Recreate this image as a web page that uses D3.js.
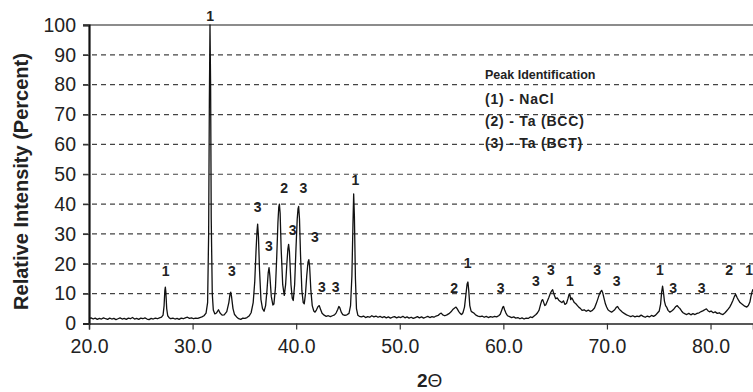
<!DOCTYPE html>
<html>
<head>
<meta charset="utf-8">
<script src="https://cdn.jsdelivr.net/npm/d3@7"></script>
<style>
  html, body { margin: 0; padding: 0; background: #fff; }
  svg { display: block; }
</style>
</head>
<body>
<svg id="chart" width="753" height="392"></svg>
<script>
// ---- data ----
const xTicks = [20, 30, 40, 50, 60, 70, 80];
const yTicks = [0, 10, 20, 30, 40, 50, 60, 70, 80, 90, 100];
const xTitleMain = "2";
const xTitleSymbol = "\u0398";
const yTitle = "Relative Intensity (Percent)";
const legendTitle = "Peak Identification";
const legendItems = ["(1) - NaCl", "(2) - Ta (BCC)", "(3) - Ta (BCT)"];

// [2-theta, relative intensity %]
const scan = [
  [20.0,1.6],[20.2,1.9],[20.4,1.5],[20.6,1.8],[20.8,1.4],[21.0,1.7],[21.2,1.5],[21.4,1.9],[21.6,1.6],[21.8,1.4],
  [22.0,1.8],[22.2,1.5],[22.4,1.7],[22.6,1.3],[22.8,1.6],[23.0,1.9],[23.2,1.5],[23.4,1.7],[23.6,1.4],[23.8,1.8],
  [24.0,1.6],[24.2,2.0],[24.4,1.5],[24.6,1.7],[24.8,1.4],[25.0,1.8],[25.2,1.6],[25.4,1.9],[25.6,1.5],[25.8,1.3],
  [26.0,1.7],[26.2,1.5],[26.4,1.8],[26.6,1.6],[26.8,1.9],[27.0,2.1],[27.15,2.8],[27.25,6.0],[27.32,11.0],[27.37,12.2],
  [27.42,10.5],[27.5,5.0],[27.6,2.6],[27.75,1.9],[27.9,1.6],[28.1,1.8],[28.3,1.5],[28.5,1.7],[28.7,1.4],[28.9,1.8],
  [29.1,1.6],[29.3,1.9],[29.5,2.1],[29.7,1.7],[29.9,1.9],[30.1,1.6],[30.3,1.8],[30.5,1.7],[30.7,2.0],[30.9,2.2],
  [31.1,2.6],[31.3,3.5],[31.45,7],[31.55,30],[31.62,75],[31.68,100],[31.74,80],[31.8,35],[31.9,10],[32.0,4.5],
  [32.15,3.2],[32.3,3.5],[32.5,4.6],[32.65,3.5],[32.85,2.8],[33.05,2.9],[33.3,4.0],[33.5,7.0],[33.62,10.0],[33.68,10.5],
  [33.76,9.0],[33.9,5.0],[34.05,3.0],[34.25,2.2],[34.45,1.6],[34.65,1.4],[34.85,1.8],[35.05,1.7],[35.25,2.0],[35.45,2.5],
  [35.65,3.6],[35.85,7.0],[36.0,14],[36.12,24],[36.22,31],[36.28,33.3],[36.36,29],[36.46,18],[36.6,8],[36.75,5],
  [36.9,4.1],[37.05,6],[37.18,11],[37.3,17],[37.38,18.7],[37.46,16],[37.6,9],[37.75,6.2],[37.85,6.5],[38.0,12],
  [38.12,22],[38.24,34],[38.32,39],[38.38,40],[38.45,37],[38.55,25],[38.7,13],[38.85,9.4],[38.98,13],[39.1,20],
  [39.2,25],[39.27,26.5],[39.35,24],[39.5,13],[39.62,8.5],[39.72,7.7],[39.85,13],[39.98,25],[40.1,35],[40.18,38.5],
  [40.24,39.2],[40.32,35],[40.42,23],[40.55,11],[40.68,7],[40.78,6.6],[40.9,10],[41.02,16],[41.14,20.5],[41.22,21.4],
  [41.3,19],[41.42,11],[41.55,6],[41.7,4.2],[41.82,3.8],[41.95,4.5],[42.1,5.6],[42.23,6.0],[42.35,4.8],[42.5,3.4],
  [42.7,2.8],[42.9,2.4],[43.1,2.6],[43.3,2.3],[43.5,2.6],[43.7,2.9],[43.85,3.5],[44.0,4.6],[44.12,5.7],[44.22,5.2],
  [44.35,3.8],[44.5,3.0],[44.7,2.7],[44.9,2.9],[45.1,3.4],[45.25,6],[45.38,16],[45.48,33],[45.55,43.4],[45.62,36],
  [45.72,15],[45.82,5],[45.95,2.8],[46.1,2.4],[46.3,2.2],[46.5,2.5],[46.7,2.0],[46.9,2.3],[47.1,2.1],[47.3,2.6],
  [47.5,2.2],[47.7,2.5],[47.9,2.1],[48.1,2.4],[48.3,2.0],[48.5,2.3],[48.7,1.9],[48.9,2.2],[49.1,1.8],[49.3,2.1],
  [49.5,2.3],[49.7,1.9],[49.9,2.2],[50.1,2.0],[50.3,2.4],[50.5,1.9],[50.7,2.2],[50.9,1.8],[51.1,2.1],[51.3,1.7],
  [51.5,2.0],[51.7,2.3],[51.9,1.9],[52.1,2.2],[52.3,1.8],[52.5,2.1],[52.7,2.4],[52.9,2.0],[53.1,2.3],[53.3,2.1],
  [53.5,2.5],[53.7,2.7],[53.85,3.2],[54.0,3.5],[54.15,2.9],[54.35,2.6],[54.55,2.9],[54.75,3.3],[54.95,3.9],[55.15,4.8],
  [55.3,5.2],[55.43,5.5],[55.55,4.9],[55.7,4.0],[55.85,3.3],[55.97,3.0],[56.1,3.6],[56.25,5.5],[56.38,9.5],[56.5,13.2],
  [56.58,13.9],[56.66,11],[56.76,6],[56.88,4.2],[57.0,3.8],[57.15,3.5],[57.35,2.8],[57.55,2.5],[57.75,2.3],[57.95,2.5],
  [58.15,2.1],[58.35,2.4],[58.55,2.0],[58.75,2.3],[58.95,2.1],[59.15,2.4],[59.35,2.2],[59.55,2.6],[59.7,3.1],[59.85,4.5],
  [59.95,5.5],[60.02,5.7],[60.12,4.6],[60.25,3.5],[60.4,2.6],[60.6,2.3],[60.8,2.0],[61.0,2.2],[61.2,1.8],[61.4,2.0],
  [61.6,1.6],[61.8,1.9],[62.0,1.5],[62.2,1.8],[62.4,1.7],[62.6,2.2],[62.8,2.0],[63.0,2.6],[63.15,3.0],[63.3,3.6],
  [63.45,4.5],[63.6,6.5],[63.72,7.8],[63.8,8.0],[63.9,7.0],[64.0,6.0],[64.1,6.3],[64.25,7.5],[64.4,8.8],[64.55,10.2],
  [64.68,11.0],[64.76,11.3],[64.85,10.2],[64.95,9.2],[65.05,8.3],[65.2,8.6],[65.35,7.8],[65.5,7.4],[65.65,7.0],[65.8,7.6],
  [65.95,6.4],[66.1,6.8],[66.25,8.5],[66.35,9.8],[66.43,9.6],[66.5,8.0],[66.6,8.6],[66.72,7.9],[66.85,7.0],[67.0,6.6],
  [67.15,6.0],[67.3,5.4],[67.45,5.0],[67.6,4.4],[67.8,4.6],[68.0,4.1],[68.2,4.5],[68.4,4.0],[68.6,4.4],[68.8,5.2],
  [68.95,6.5],[69.1,8.0],[69.25,9.6],[69.38,10.6],[69.49,11.1],[69.6,10.2],[69.72,8.4],[69.85,6.6],[69.97,5.5],[70.1,4.6],
  [70.25,4.2],[70.45,3.8],[70.6,4.2],[70.75,4.6],[70.9,5.4],[71.03,5.7],[71.15,5.0],[71.3,4.4],[71.5,3.8],[71.7,3.3],
  [71.9,2.9],[72.1,2.6],[72.3,2.3],[72.5,2.6],[72.7,2.2],[72.9,2.5],[73.1,2.3],[73.3,2.8],[73.5,2.4],[73.7,2.1],
  [73.9,2.5],[74.1,2.2],[74.3,2.7],[74.5,2.4],[74.7,2.8],[74.9,3.6],[75.05,4.2],[75.18,6.5],[75.28,10.5],[75.37,12.5],
  [75.45,10.6],[75.55,7.5],[75.66,6.0],[75.76,5.5],[75.9,4.4],[76.08,3.8],[76.25,4.2],[76.45,4.8],[76.62,5.6],[76.79,6.0],
  [76.92,5.4],[77.05,5.0],[77.2,4.2],[77.35,3.6],[77.5,3.3],[77.7,3.0],[77.9,3.4],[78.1,2.9],[78.3,3.3],[78.5,3.0],
  [78.7,3.4],[78.9,3.6],[79.1,4.0],[79.3,4.3],[79.48,4.7],[79.6,4.9],[79.75,4.3],[79.9,3.9],[80.05,4.2],[80.26,3.6],
  [80.45,3.9],[80.65,3.4],[80.85,3.6],[81.0,3.2],[81.2,3.0],[81.4,3.6],[81.55,4.2],[81.7,4.8],[81.85,5.5],[82.0,6.5],
  [82.15,7.6],[82.3,9.0],[82.42,9.8],[82.55,8.8],[82.7,7.8],[82.85,7.0],[83.0,6.6],[83.15,6.2],[83.3,5.8],[83.5,5.5],
  [83.65,6.0],[83.8,7.2],[83.9,9.0],[84.0,10.5],[84.1,11.5]
];

// peak markers: [2-theta, intensity level of label baseline, phase]
const peakLabels = [
  [27.4,16.0,"1"],[31.7,101.5,"1"],[33.8,16.0,"3"],[36.28,37.5,"3"],[37.37,24.4,"3"],
  [38.85,43.6,"2"],[39.66,29.5,"3"],[40.69,43.6,"3"],[41.8,27.4,"3"],[42.49,10.6,"3"],
  [43.81,10.6,"3"],[45.72,46.3,"1"],[55.26,10.3,"2"],[56.55,18.7,"1"],[59.74,10.3,"3"],
  [63.15,12.6,"3"],[64.59,16.3,"3"],[66.43,12.6,"1"],[69.06,16.3,"3"],[70.93,12.6,"3"],
  [75.11,16.3,"1"],[76.4,10.3,"3"],[79.14,10.3,"3"],[81.8,16.3,"2"],[83.73,16.3,"1"]
];

// ---- layout ----
(function () {
const svg = d3.select("#chart");
const W = 753, H = 392;
const mLeft = 89, mRight = 753, mTop = 25, mBottom = 323.5;
const FONT = "'Liberation Sans', Arial, Helvetica, sans-serif";

const x = d3.scaleLinear().domain([20, 84.1]).range([mLeft, mRight]);
const y = d3.scaleLinear().domain([0, 100]).range([mBottom, mTop]);

svg.append("rect").attr("width", W).attr("height", H).attr("fill", "#fff");

// gridlines (dashed), top line solid
const grid = svg.append("g");
grid.selectAll("line").data(yTicks.filter(d => d > 0)).join("line")
  .attr("x1", mLeft - 6).attr("x2", mRight)
  .attr("y1", d => y(d)).attr("y2", d => y(d))
  .attr("stroke", d => d === 100 ? "#666" : "#444")
  .attr("stroke-width", d => d === 100 ? 1.6 : 1.2)
  .attr("stroke-dasharray", d => d === 100 ? null : "5,4");

// y axis
const yAxis = svg.append("g").attr("transform", `translate(${mLeft},0)`)
  .call(d3.axisLeft(y).tickValues(yTicks).tickSize(6).tickPadding(7).tickFormat(d3.format("d")));
yAxis.select(".domain").attr("stroke", "#111").attr("stroke-width", 2.2);
yAxis.selectAll(".tick line").attr("stroke", "#333").attr("stroke-width", 1.2);
yAxis.selectAll(".tick text").attr("font-family", FONT).attr("font-size", 19.5).attr("fill", "#222");

// x axis
const xAxis = svg.append("g").attr("transform", `translate(0,${mBottom})`)
  .call(d3.axisBottom(x).tickValues(xTicks).tickSize(6).tickPadding(10).tickFormat(d3.format(".1f")));
xAxis.select(".domain").attr("stroke", "#222").attr("stroke-width", 1.4);
xAxis.selectAll(".tick line").attr("stroke", "#333").attr("stroke-width", 1.2);
xAxis.selectAll(".tick text").attr("font-family", FONT).attr("font-size", 19.5).attr("fill", "#222");

// data line
svg.append("defs").append("clipPath").attr("id", "plotclip")
  .append("rect").attr("x", mLeft).attr("y", mTop - 2).attr("width", mRight - mLeft).attr("height", mBottom - mTop + 2);
svg.append("path")
  .datum(scan)
  .attr("clip-path", "url(#plotclip)")
  .attr("fill", "none")
  .attr("stroke", "#111")
  .attr("stroke-width", 1.3)
  .attr("stroke-linejoin", "round")
  .attr("d", d3.line().x(d => x(d[0])).y(d => y(d[1])));

// peak labels
svg.append("g").selectAll("text").data(peakLabels).join("text")
  .attr("x", d => x(d[0])).attr("y", d => y(d[1]))
  .attr("text-anchor", "middle")
  .attr("font-family", FONT).attr("font-weight", "bold").attr("font-size", 14)
  .attr("fill", "#222")
  .text(d => d[2]);

// legend text
const lg = svg.append("g").attr("font-family", FONT).attr("font-weight", "bold").attr("fill", "#222");
lg.append("text").attr("x", 485).attr("y", 79).attr("font-size", 12.5).text(legendTitle);
lg.selectAll("text.item").data(legendItems).join("text").attr("class", "item")
  .attr("x", 485).attr("y", (d, i) => 104 + i * 22)
  .attr("font-size", 14).attr("letter-spacing", 0.8)
  .text(d => d);

// axis titles
svg.append("text")
  .attr("transform", `translate(28,181.5) rotate(-90)`)
  .attr("text-anchor", "middle")
  .attr("font-family", FONT).attr("font-weight", "bold").attr("font-size", 20)
  .attr("fill", "#222")
  .text(yTitle);

const xt = svg.append("text").attr("x", 417).attr("y", 387)
  .attr("font-family", FONT).attr("font-size", 19).attr("fill", "#222");
xt.append("tspan").attr("font-weight", "bold").text(xTitleMain);
xt.append("tspan").attr("font-weight", "normal").text(xTitleSymbol);
})();
</script>
</body>
</html>
